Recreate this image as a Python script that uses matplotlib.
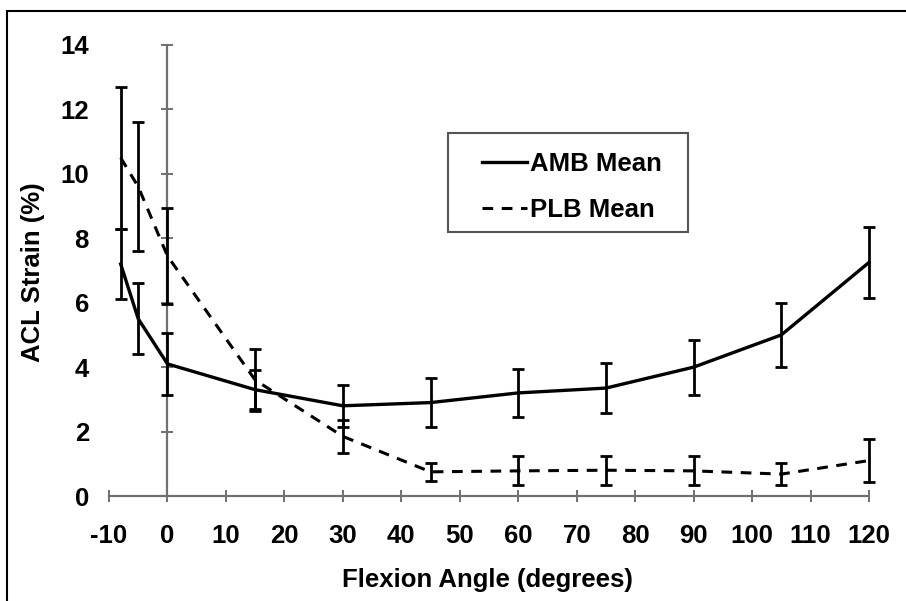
import matplotlib
matplotlib.use('Agg')
import matplotlib.pyplot as plt
from matplotlib.patches import Rectangle

# flexion angle (degrees)
angles = [-8, -5, 0, 15, 30, 45, 60, 75, 90, 105, 120]

# anteromedial bundle strain (%)
amb_mean = [7.2, 5.5, 4.1, 3.3, 2.8, 2.9, 3.2, 3.35, 4.0, 5.0, 7.25]
amb_err = [1.1, 1.1, 0.95, 0.6, 0.65, 0.75, 0.75, 0.78, 0.85, 1.0, 1.1]

# posterolateral bundle strain (%)
plb_mean = [10.5, 9.6, 7.45, 3.6, 1.85, 0.75, 0.78, 0.8, 0.78, 0.68, 1.1]
plb_err = [2.2, 2.0, 1.5, 0.95, 0.5, 0.28, 0.45, 0.45, 0.45, 0.33, 0.67]

xticks = list(range(-10, 121, 10))
yticks = list(range(0, 15, 2))

plt.rcParams['font.family'] = ['Liberation Sans', 'DejaVu Sans']
plt.rcParams['font.weight'] = 'bold'
plt.rcParams['font.size'] = 18.5
plt.rcParams['axes.unicode_minus'] = False

W, H = 906, 601
fig = plt.figure(figsize=(W / 100, H / 100), dpi=100)

# axes placed so that x=-10..120 spans px 109..869 and y=0..14 spans px 496..45
xlim = (-12, 122)
ylim = (-0.5, 14.5)
px_x = (869 - 109) / 130
px_y = (496 - 45) / 14
left = 109 + (xlim[0] + 10) * px_x
right = 109 + (xlim[1] + 10) * px_x
bottom = 496 - ylim[0] * px_y
top = 496 - ylim[1] * px_y
ax = fig.add_axes([left / W, 1 - bottom / H, (right - left) / W, (bottom - top) / H])
ax.set_xlim(*xlim)
ax.set_ylim(*ylim)

axis_color = '#707070'

# x axis along y = 0
for s in ('top', 'right', 'left'):
    ax.spines[s].set_visible(False)
ax.spines['bottom'].set_position(('data', 0))
ax.spines['bottom'].set_bounds(-10, 120)
ax.spines['bottom'].set_color(axis_color)
ax.spines['bottom'].set_linewidth(1.6)
ax.set_xticks(xticks)
ax.tick_params(axis='x', direction='inout', length=9, width=1.4, color=axis_color, pad=16)

# y labels at the far left, y axis line at x = 0
ax.set_yticks(yticks)
ax.tick_params(axis='y', length=0, pad=6)
sec = ax.secondary_yaxis(0, transform=ax.transData)
sec.set_yticks(yticks)
sec.tick_params(axis='y', direction='inout', length=9, width=1.4, color=axis_color, labelleft=False)
sec.spines['left'].set_bounds(0, 14)
sec.spines['left'].set_color(axis_color)
sec.spines['left'].set_linewidth(1.6)

ax.errorbar(angles, amb_mean, yerr=amb_err, color='black', lw=2.4, elinewidth=2,
            capsize=4, capthick=2, label='AMB Mean', clip_on=False, zorder=3)
ax.errorbar(angles, plb_mean, yerr=plb_err, color='black', lw=2.2, ls=(0, (3.5, 2.8)),
            elinewidth=2, capsize=4, capthick=2, label='PLB Mean', clip_on=False, zorder=3)

# legend entries without frame; the box is drawn separately
handles, labels = ax.get_legend_handles_labels()
handles = [h[0] for h in handles]
ax.legend(handles, labels, loc='upper left',
          bbox_to_anchor=((482 - left) / (right - left), 1 - (152 - top) / (bottom - top)),
          borderaxespad=0, borderpad=0, frameon=False,
          handlelength=1.75, handletextpad=0.12, labelspacing=0.85)
fig.patches.append(Rectangle((448 / W, 1 - 232 / H), 240 / W, 99 / H, transform=fig.transFigure,
                             fill=False, edgecolor='#555555', lw=1.5))

fig.text(487 / W, 1 - 580 / H, 'Flexion Angle (degrees)', ha='center', va='center')
fig.text(33 / W, 1 - 272 / H, 'ACL Strain (%)', ha='center', va='center', rotation=90)

# outer border of the chart area (left and top edges visible)
fig.patches.append(Rectangle((7 / W, -0.1), 1.2, 1 - 11 / H + 0.1, transform=fig.transFigure,
                             fill=False, edgecolor='black', lw=1.5))

fig.savefig('out.png', dpi=100)
